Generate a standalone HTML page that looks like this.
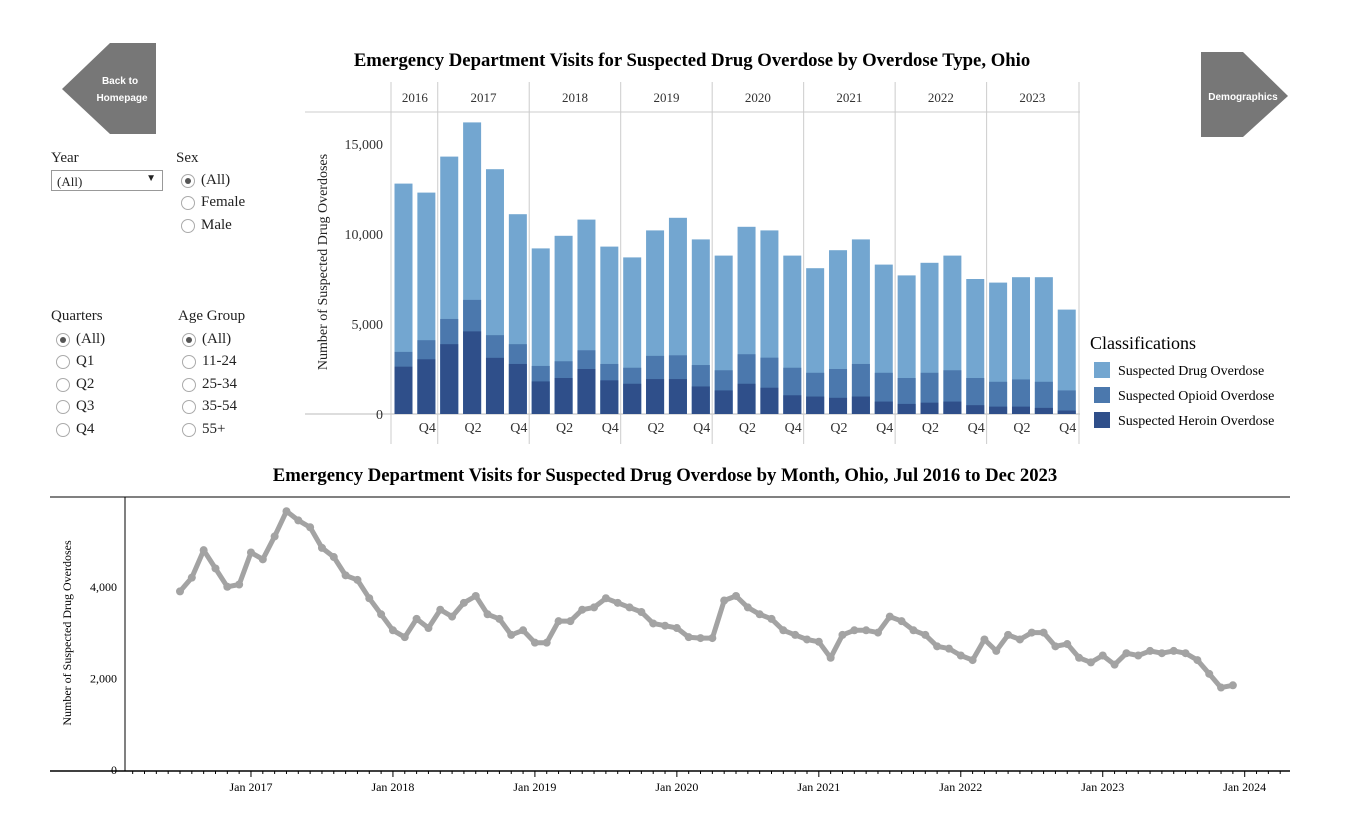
<!DOCTYPE html>
<html><head><meta charset="utf-8">
<style>
body{margin:0;width:1345px;height:815px;background:#fff;font-family:"Liberation Serif",serif;overflow:hidden;position:relative;color:#222}
.abs{position:absolute}
.lbl{font-size:15px}
.radio{position:absolute;font-size:15px;display:flex;align-items:center}
.radio span.c{width:14px;height:14px;border:1px solid #aaa;border-radius:50%;margin-right:6px;box-sizing:border-box;display:inline-block;position:relative}
.radio span.c.on::after{content:"";position:absolute;left:3px;top:3px;width:6px;height:6px;border-radius:50%;background:#555}
</style></head><body>
<svg class="abs" style="left:0;top:0" width="1345" height="815">
  <polygon points="62,89 110,43 156,43 156,134 110,134" fill="#777"/>
  <text x="120" y="84" font-family="Liberation Sans" font-size="10" font-weight="bold" fill="#fff" text-anchor="middle">Back to</text>
  <text x="122" y="101" font-family="Liberation Sans" font-size="10" font-weight="bold" fill="#fff" text-anchor="middle">Homepage</text>
  <polygon points="1201,52 1243,52 1288,96 1243,137 1201,137" fill="#777"/>
  <text x="1243" y="100" font-family="Liberation Sans" font-size="10" font-weight="bold" fill="#fff" text-anchor="middle">Demographics</text>
  <text x="692" y="66" font-size="18.7" font-weight="bold" text-anchor="middle">Emergency Department Visits for Suspected Drug Overdose by Overdose Type, Ohio</text>
  <text x="665" y="481" font-size="18.7" font-weight="bold" text-anchor="middle">Emergency Department Visits for Suspected Drug Overdose by Month, Ohio, Jul 2016 to Dec 2023</text>
  <g id="bars"></g>
  <g id="line"></g>
  <text x="1090" y="349" font-size="18">Classifications</text>
  <rect x="1094" y="362" width="16" height="16" fill="#73a6d0"/>
  <text x="1118" y="375" font-size="14">Suspected Drug Overdose</text>
  <rect x="1094" y="387" width="16" height="16" fill="#4b78ad"/>
  <text x="1118" y="400" font-size="14">Suspected Opioid Overdose</text>
  <rect x="1094" y="412" width="16" height="16" fill="#2f4f8a"/>
  <text x="1118" y="425" font-size="14">Suspected Heroin Overdose</text>
</svg>

<div class="abs lbl" style="left:51px;top:150px">Year</div>
<div class="abs" style="left:51px;top:170px;width:112px;height:21px;border:1px solid #999;box-sizing:border-box;font-size:13px;padding:3px 5px">(All)<span style="position:absolute;right:6px;top:2px;font-size:10px">▼</span></div>
<div class="abs lbl" style="left:176px;top:150px">Sex</div>
<div class="radio" style="left:181px;top:172px"><span class="c on"></span>(All)</div>
<div class="radio" style="left:181px;top:194px"><span class="c"></span>Female</div>
<div class="radio" style="left:181px;top:217px"><span class="c"></span>Male</div>
<div class="abs lbl" style="left:51px;top:308px">Quarters</div>
<div class="radio" style="left:56px;top:331px"><span class="c on"></span>(All)</div>
<div class="radio" style="left:56px;top:353px"><span class="c"></span>Q1</div>
<div class="radio" style="left:56px;top:376px"><span class="c"></span>Q2</div>
<div class="radio" style="left:56px;top:398px"><span class="c"></span>Q3</div>
<div class="radio" style="left:56px;top:421px"><span class="c"></span>Q4</div>
<div class="abs lbl" style="left:178px;top:308px">Age Group</div>
<div class="radio" style="left:182px;top:331px"><span class="c on"></span>(All)</div>
<div class="radio" style="left:182px;top:353px"><span class="c"></span>11-24</div>
<div class="radio" style="left:182px;top:376px"><span class="c"></span>25-34</div>
<div class="radio" style="left:182px;top:398px"><span class="c"></span>35-54</div>
<div class="radio" style="left:182px;top:421px"><span class="c"></span>55+</div>

<script>
const NS="http://www.w3.org/2000/svg";
// ---- bar chart data (2016 Q3 .. 2023 Q4) ----
const years=["2016","2017","2018","2019","2020","2021","2022","2023"];
const drugTotals=[12800,12300,14300,16200,13600,11100,9200,9900,10800,9300,8700,10200,10900,9700,8800,10400,10200,8800,8100,9100,9700,8300,7700,8400,8800,7500,7300,7600,7600,5800];
const opioidTotals=[3450,4100,5280,6340,4380,3880,2670,2930,3540,2780,2570,3230,3260,2720,2430,3320,3130,2570,2290,2500,2780,2290,2000,2290,2430,2000,1790,1920,1790,1310];
const heroinTotals=[2630,3040,3880,4590,3120,2780,1810,2000,2500,1870,1680,1940,1940,1530,1310,1680,1460,1040,970,900,970,690,560,630,690,490,410,410,340,190];
const barTicks=[0,5000,10000,15000];
// ---- line chart data (Jul 2016 .. Dec 2023) ----
const monthlyValues=[3900,4200,4800,4400,4000,4050,
4750,4600,5100,5650,5450,5300,4850,4650,4250,4150,3750,3400,
3050,2900,3300,3100,3500,3350,3650,3800,3400,3300,2950,3050,
2780,2780,3250,3250,3500,3550,3750,3650,3550,3450,3200,3150,
3100,2900,2880,2880,3700,3800,3550,3400,3300,3050,2950,2850,
2800,2450,2950,3050,3050,3000,3350,3250,3050,2950,2700,2650,
2500,2400,2850,2600,2950,2850,3000,3000,2700,2750,2450,2350,
2500,2300,2550,2500,2600,2550,2600,2550,2400,2100,1800,1850];
const lineTicks=[0,2000,4000];
const yearLabels=["Jan 2017","Jan 2018","Jan 2019","Jan 2020","Jan 2021","Jan 2022","Jan 2023","Jan 2024"];

function mk(tag,attrs,parent,txt){const e=document.createElementNS(NS,tag);for(const k in attrs)e.setAttribute(k,attrs[k]);if(txt!==undefined)e.textContent=txt;parent.appendChild(e);return e;}

const bg=document.getElementById('bars');
const bY=v=>414-v*0.018;
const qW=22.87, bX0=392;
const bX=i=>bX0+i*qW;
mk('line',{x1:305,y1:112,x2:1080,y2:112,stroke:'#ccc'},bg);
mk('line',{x1:305,y1:414,x2:1080,y2:414,stroke:'#bbb'},bg);
mk('line',{x1:391,y1:82,x2:391,y2:444,stroke:'#ccc'},bg);
mk('line',{x1:1079,y1:82,x2:1079,y2:444,stroke:'#ccc'},bg);
years.forEach((y,k)=>{
  const start=k===0?0:2+(k-1)*4, n=k===0?2:4;
  const x1=bX(start), x2=bX(start+n);
  if(k>0){mk('line',{x1:x1,y1:82,x2:x1,y2:444,stroke:'#ccc'},bg);}
  const t=mk('text',{x:(x1+x2)/2,y:102,'font-size':13,'text-anchor':'middle',fill:'#333'},bg,y);
  
  
});
barTicks.forEach(v=>{
  const t=mk('text',{x:383,y:bY(v)+5,'font-size':14,'text-anchor':'end',fill:'#333'},bg,v.toLocaleString('en-US'));
  
  
});
const yt=mk('text',{transform:'translate(327,262) rotate(-90)','font-size':14,'text-anchor':'middle',fill:'#222'},bg,'Number of Suspected Drug Overdoses');


drugTotals.forEach((v,i)=>{
  const x=bX(i)+2.5, w=18;
  const a=mk('rect',{x:x,y:bY(v),width:w,height:bY(0)-bY(v),fill:'#73a6d0'},bg);
  
  
  const o=opioidTotals[i];
  const b=mk('rect',{x:x,y:bY(o),width:w,height:bY(0)-bY(o),fill:'#4b78ad'},bg);
  
  
  const h=heroinTotals[i];
  const c=mk('rect',{x:x,y:bY(h),width:w,height:bY(0)-bY(h),fill:'#2f4f8a'},bg);
  
  
  const q=(i+2)%4;
  if(q===1||q===3){
    const t=mk('text',{x:bX(i)+qW/2+1,y:432,'font-size':14,'text-anchor':'middle',fill:'#333'},bg,q===1?'Q2':'Q4');
    
    
  }
});

const lg=document.getElementById('line');
const lY=v=>770-v*0.0458;
const lX=i=>180+i*11.83;
mk('line',{x1:50,y1:497,x2:1290,y2:497,stroke:'#000','stroke-width':1},lg);
mk('line',{x1:125,y1:497,x2:125,y2:771,stroke:'#000','stroke-width':1},lg);
mk('line',{x1:50,y1:771,x2:1290,y2:771,stroke:'#000','stroke-width':1.5},lg);
for(let m=-6;m<=96;m++){const x=lX(m);if(x<128||x>1288)continue;const jan=((m+6)%12)===0;
  mk('line',{x1:x,y1:771,x2:x,y2:jan?777:774,stroke:'#000','stroke-width':1},lg);}
yearLabels.forEach((s,k)=>{
  const t=mk('text',{x:lX(6+12*k),y:791,'font-size':12,'text-anchor':'middle'},lg,s);
  
  
});
lineTicks.forEach(v=>{
  const t=mk('text',{x:117,y:lY(v)+4,'font-size':12,'text-anchor':'end'},lg,v.toLocaleString('en-US'));
  
  
});
const lt=mk('text',{transform:'translate(71,633) rotate(-90)','font-size':12,'text-anchor':'middle'},lg,'Number of Suspected Drug Overdoses');


const pts=monthlyValues.map((v,i)=>lX(i).toFixed(1)+','+lY(v).toFixed(1)).join(' ');
const pl=mk('polyline',{points:pts,fill:'none',stroke:'#a3a3a3','stroke-width':5,'stroke-linejoin':'round'},lg);


monthlyValues.forEach((v,i)=>{
  const c=mk('circle',{cx:lX(i),cy:lY(v),r:4,fill:'#a3a3a3'},lg);
  
  
});
</script>
</body></html>
